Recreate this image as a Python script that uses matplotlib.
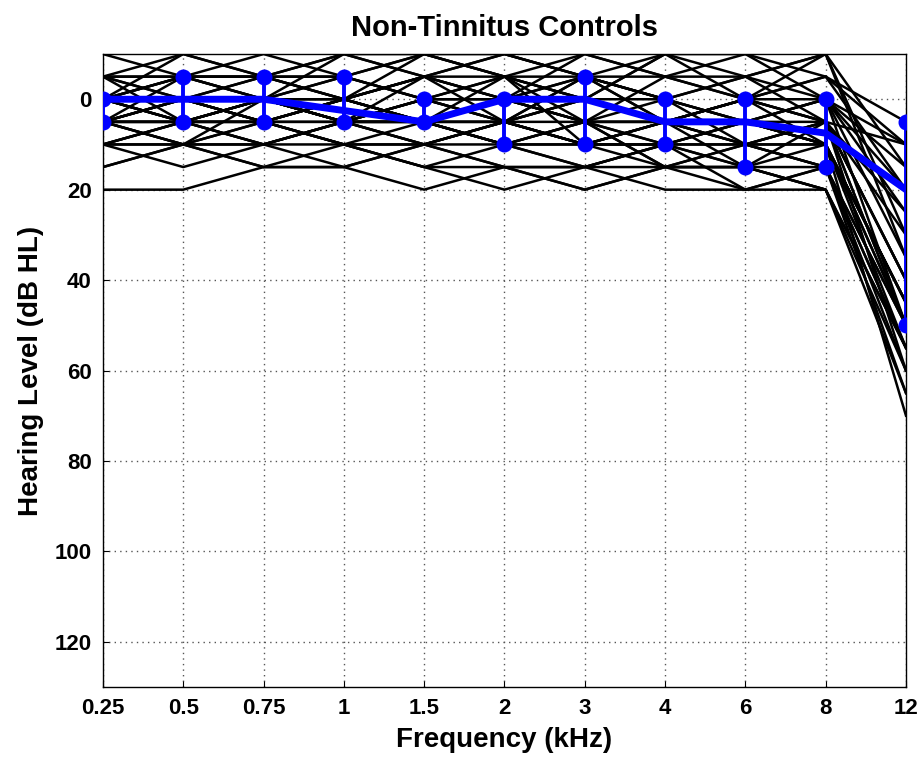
import matplotlib
matplotlib.use("Agg")
import matplotlib.pyplot as plt
import numpy as np

freq_labels = ["0.25", "0.5", "0.75", "1", "1.5", "2", "3", "4", "6", "8", "12"]

subjects = [
    [20, 20, 15, 15, 20, 15, 15, 15, 15, 15, 50],
    [15, 10, 10, 10, 15, 15, 20, 15, 15, 20, 55],
    [10, 10, 15, 15, 10, 10, 15, 10, 15, 20, 60],
    [5, 0, 5, 10, 10, 5, 10, 15, 10, 15, 65],
    [0, -5, 0, 5, 5, 10, 10, 5, 10, 10, 70],
    [5, 5, 0, -5, 0, 5, 0, 5, 5, 10, 45],
    [0, 0, -5, 0, -5, -10, -5, 0, 5, 0, 50],
    [-5, -10, -5, -10, -5, 0, -10, -5, 0, -5, 20],
    [-5, -5, -10, -5, -10, -5, 0, -10, -5, -10, 15],
    [0, 5, 5, 0, 5, 0, 5, 0, -5, 5, 10],
    [5, 5, 10, 5, 0, -5, -5, 5, 0, 0, 25],
    [10, 5, 5, 10, 5, 10, 5, 10, 5, 5, 30],
    [0, 0, 0, 0, 5, 5, 5, 5, 10, 15, 55],
    [-5, 0, 0, 5, 10, 5, 10, 10, 5, 10, 45],
    [5, 0, -5, -5, 0, 0, -5, -5, -10, -5, 5],
    [0, -5, -5, 0, -5, -5, 0, 5, 0, 5, 40],
    [10, 10, 5, 5, 10, 15, 15, 10, 20, 15, 60],
    [5, 10, 10, 5, 0, 0, 5, 15, 15, 20, 55],
    [-5, -5, 0, -5, 0, 5, -5, 0, 5, 0, 35],
    [0, 5, 0, 5, 5, 10, 10, 5, 0, 5, 50],
    [10, 15, 10, 5, 5, 5, 10, 10, 10, 10, 50],
    [5, 0, 5, 0, -5, 0, 5, 5, 15, 10, 45],
    [-10, -5, -5, -10, -10, -5, -10, -5, -5, 0, 15],
    [0, 0, 5, 5, 5, -5, 0, 0, 5, 10, 50],
    [15, 10, 15, 10, 15, 10, 5, 15, 10, 5, 40],
    [5, 5, 5, 10, 15, 20, 15, 20, 20, 20, 65],
    [0, -5, -5, -5, -10, -10, -5, -10, 0, -5, 10],
    [5, 5, 0, 5, 5, 0, 5, 5, 5, 0, 20],
    [0, 5, 5, 10, 10, 15, 20, 15, 20, 15, 55],
    [5, 0, 0, 0, 5, 5, 10, 10, 10, 15, 50],
    [0, -10, -5, 0, -5, -10, -5, 0, -5, -10, 30],
    [5, 10, 5, 0, 5, 10, 15, 10, 5, 10, 45],
    [-5, 0, 5, 0, -10, -5, 5, -5, 0, 5, 40],
    [10, 5, 0, 5, 10, 5, -5, 0, 10, 5, 60],
    [0, 5, 10, 15, 10, 5, 10, 5, 0, -10, 35],
    [5, -5, 0, -10, -5, 5, 0, -10, -10, 0, 10],
    [-5, 5, 0, 5, 0, -5, 10, 5, 10, 5, 50],
    [10, 5, 10, 5, 0, 5, 0, 5, 5, 10, 55],
    [0, 0, 5, 0, 5, 10, 5, 10, 15, 5, 25],
    [5, 10, 0, 5, -5, 0, -5, 5, 0, 10, 45],
]

median = [0, 0, 0, 2.5, 5, 0, 0, 5, 5, 7.5, 20]
upper = [0, -5, -5, -5, 0, 0, -5, 0, 0, 0, 5]
lower = [5, 5, 5, 5, 5, 10, 10, 10, 15, 15, 50]

y_ticks = [0, 20, 40, 60, 80, 100, 120]

plt.rcParams['font.family'] = ['Liberation Sans', 'DejaVu Sans']
plt.rcParams['font.weight'] = 'bold'

fig = plt.figure(figsize=(9.21, 7.6), dpi=100)
ax = fig.add_axes([0.1118, 0.0961, 0.8719, 0.8328])

x = np.arange(len(freq_labels))
for s in subjects:
    ax.plot(x, s, color='black', lw=1.8, zorder=2)

ax.plot(x, median, color='#0000ff', lw=5, zorder=4, solid_joinstyle='round')
for xi, lo, hi in zip(x, lower, upper):
    ax.plot([xi, xi], [hi, lo], color='#0000ff', lw=2.8, zorder=4)
ax.plot(x, upper, 'o', color='#0000ff', ms=10.5, zorder=5)
ax.plot(x, lower, 'o', color='#0000ff', ms=10.5, zorder=5)

ax.set_xlim(0, len(freq_labels) - 1)
ax.set_ylim(130, -10)
ax.set_xticks(x)
ax.set_xticklabels(freq_labels)
ax.set_yticks(y_ticks)
ax.grid(True, color='#555555', linestyle=(0, (1, 3)), lw=1.0)
ax.set_axisbelow(True)
ax.tick_params(labelsize=16, length=4, direction='in', pad=8, top=False, right=False)
for lab in ax.get_xticklabels() + ax.get_yticklabels():
    lab.set_fontweight('bold')
for sp in ax.spines.values():
    sp.set_linewidth(1.0)

ax.set_title("Non-Tinnitus Controls", fontsize=21, fontweight='bold', pad=13)
ax.set_xlabel("Frequency (kHz)", fontsize=20, fontweight='bold', labelpad=6)
ax.set_ylabel("Hearing Level (dB HL)", fontsize=20, fontweight='bold', labelpad=8)

fig.savefig("out.png", dpi=100)
